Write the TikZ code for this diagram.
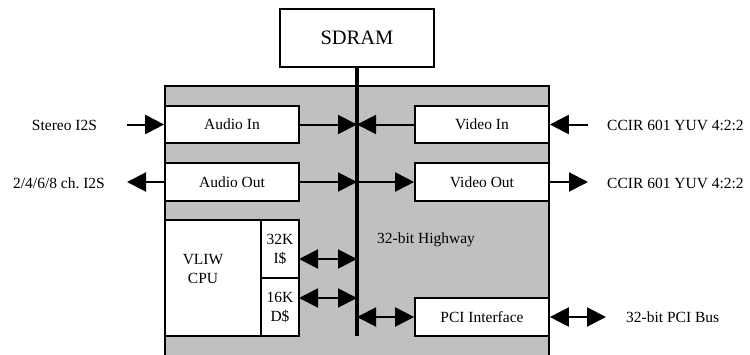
\documentclass[tikz,border=0pt]{standalone}
\usepackage{fontspec}
\setmainfont{Liberation Serif}
\usetikzlibrary{arrows.meta}
\definecolor{chipgray}{HTML}{C0C0C0}
\begin{document}
\begin{tikzpicture}[x=1pt,y=-1pt,
  blk/.style={draw, line width=1.7pt, fill=white, inner sep=0pt,
    font=\fontsize{15.5}{19}\selectfont, align=center},
  txt/.style={inner sep=0pt, font=\fontsize{15.5}{19}\selectfont, align=center},
  conn/.style={line width=2pt, -{Triangle[length=19pt,width=19pt]}},
  dconn/.style={line width=2pt, {Triangle[length=19pt,width=19pt]}-{Triangle[length=19pt,width=19pt]}},
  bus/.style={line width=4pt}]
\useasboundingbox (0,0) rectangle (750,354);
\begin{scope}
\clip (0,0) rectangle (750,354);
% chip outline
\draw[line width=1.7pt, fill=chipgray] (165,86) rectangle (549,380);
\end{scope}

% memory and on-chip blocks
\node[blk, minimum width=154pt, minimum height=58pt,
  font=\fontsize{20.5}{24}\selectfont] (sdram) at (357,38) {SDRAM};
\node[blk, minimum width=134pt, minimum height=37pt] (ain) at (232,124.5) {Audio In};
\node[blk, minimum width=134pt, minimum height=38pt] (aout) at (232,182) {Audio Out};
\node[blk, minimum width=134pt, minimum height=37pt] (vin) at (482,124.5) {Video In};
\node[blk, minimum width=134pt, minimum height=38pt] (vout) at (482,182) {Video Out};
\node[blk, minimum width=96pt, minimum height=116pt] (cpu) at (213,278) {};
\node[txt] (cputxt) at (203,269) {VLIW\\CPU};
\node[blk, minimum width=38pt, minimum height=58pt] (icache) at (280,249) {32K\\I\$};
\node[blk, minimum width=38pt, minimum height=58pt] (dcache) at (280,307) {16K\\D\$};
\node[blk, minimum width=134pt, minimum height=38pt] (pci) at (482,317) {PCI Interface};

% 32-bit highway
\coordinate (busbot) at (357,336);
\draw[bus] (sdram.south) -- (busbot);
\node[txt, anchor=west] (hwy) at (377,240) {32-bit Highway};

% connections to the highway
\coordinate (ia) at (299,259);
\coordinate (da) at (299,298);
\draw[conn] (ain.east) -- (ain.east -| busbot);
\draw[conn] (vin.west) -- (vin.west -| busbot);
\draw[conn] (aout.east) -- (aout.east -| busbot);
\draw[conn] (vout.west -| busbot) -- (vout.west);
\draw[dconn] (ia) -- (ia -| busbot);
\draw[dconn] (da) -- (da -| busbot);
\draw[dconn] (pci.west -| busbot) -- (pci.west);

% external signals
\node[txt] (stereo) at (64.5,125) {Stereo I2S};
\node[txt] (multi) at (59,183) {2/4/6/8 ch.\ I2S};
\node[txt, anchor=west] (ccirin) at (607,125) {CCIR 601 YUV 4:2:2};
\node[txt, anchor=west] (ccirout) at (607,183) {CCIR 601 YUV 4:2:2};
\node[txt, anchor=west] (pcibus) at (626,317) {32-bit PCI Bus};
\coordinate (sIn) at (127,124.5);
\coordinate (mOut) at (127,182);
\coordinate (vIn) at (588,124.5);
\coordinate (vOut) at (588,182);
\coordinate (pOut) at (606,317);
\draw[conn] (sIn) -- (ain.west);
\draw[conn] (aout.west) -- (mOut);
\draw[conn] (vIn) -- (vin.east);
\draw[conn] (vout.east) -- (vOut);
\draw[dconn] (pci.east) -- (pOut);
\end{tikzpicture}
\end{document}
